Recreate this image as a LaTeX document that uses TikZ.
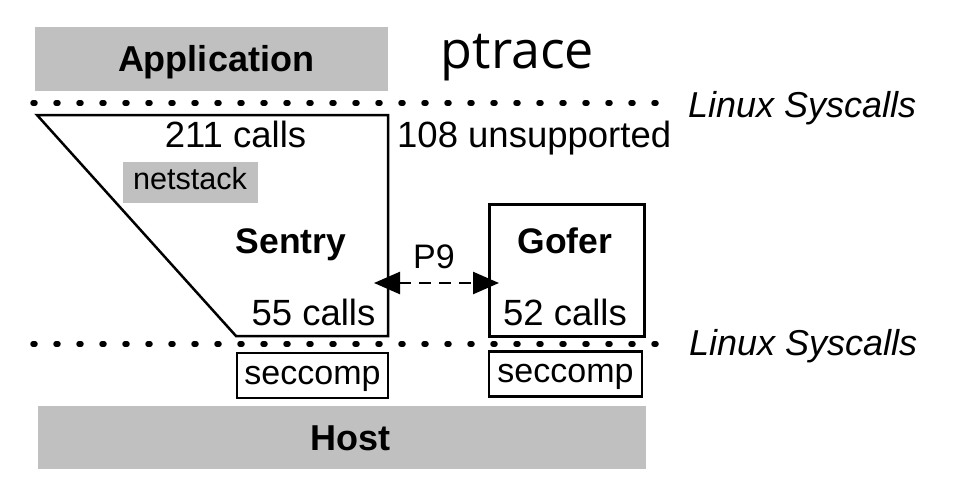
\documentclass[tikz,border=0pt]{standalone}
\usepackage{fontspec}
\setmainfont{Liberation Sans}
\newfontfamily\ptfont{Open Sans}
\usetikzlibrary{arrows.meta}
\definecolor{boxgray}{HTML}{C0C0C0}
\tikzset{
  txt/.style={font=\fontsize{36.5}{40}\selectfont, inner sep=0pt, anchor=base},
  btxt/.style={font=\fontsize{35.5}{40}\selectfont\bfseries, inner sep=0pt, anchor=base},
  itxt/.style={font=\fontsize{36}{40}\selectfont\itshape, inner sep=0pt, anchor=base west},
  graybox/.style={fill=boxgray, draw=none, inner sep=0pt, font=\fontsize{36}{40}\selectfont\bfseries, text height=25.6pt, text depth=0pt},
  whitebox/.style={draw=black, line width=2.5pt, inner sep=0pt, fill=white},
  seccbox/.style={whitebox, font=\fontsize{34}{40}\selectfont, text height=17.6pt, text depth=0pt},
  dotline/.style={line width=5.5pt, line cap=round, dash pattern=on 2pt off 21pt},
  outline/.style={draw=black, line width=2.5pt, line join=miter},
  p9arrow/.style={line width=2.5pt, dash pattern=on 12pt off 8pt, {Triangle[length=26pt,width=22pt]}-{Triangle[length=26pt,width=22pt]}},
}
\begin{document}
\begin{tikzpicture}[x=1pt,y=-1pt]
\useasboundingbox (0,0) rectangle (958,487);
% Application
\node[graybox, minimum width=353pt, minimum height=64pt] (app) at (211.5,59) {\hspace*{9pt}Application};
\node[font=\ptfont\fontsize{52}{58}\selectfont, inner sep=0pt, anchor=base] (ptrace) at (517.5,68) {ptrace};
% dotted lines
\coordinate (d1s) at (33,103);
\coordinate (d1e) at (658,103);
\draw[dotline] (d1s) -- (d1e);
\node[itxt] (ls1) at (688,117) {Linux Syscalls};
\coordinate (d2s) at (33,344);
\coordinate (d2e) at (658,344);
\draw[dotline] (d2s) -- (d2e);
\node[itxt] (ls2) at (689,355) {Linux Syscalls};
% Sentry trapezoid
\coordinate (stl) at (37,115);
\coordinate (str) at (388,115);
\coordinate (sbr) at (388,336);
\coordinate (sbl) at (236,336);
\draw[outline] (stl) -- (str) -- (sbr) -- (sbl) -- cycle;
\node[txt] (c211) at (235.5,147) {211 calls};
\node[txt, anchor=base west] (unsup) at (397,147) {108 unsupported};
\node[fill=boxgray, inner sep=0pt, minimum width=135pt, minimum height=41pt, anchor=north west] (net) at (123,162) {};
\node[font=\fontsize{30.6}{34}\selectfont, inner sep=0pt, anchor=base] (nettxt) at (190,189) {netstack};
\node[btxt] (sentry) at (291,253) {Sentry};
\node[txt] (c55) at (313.5,325) {55 calls};
% Gofer
\node[whitebox, minimum width=155pt, minimum height=132pt, anchor=north west] (gofer) at (488,203) {};
\node[btxt] (gofertxt) at (565,253) {Gofer};
\node[txt] (c52) at (565,325) {52 calls};
% P9
\coordinate (p9l) at (374,283);
\coordinate (p9r) at (499,283);
\draw[p9arrow] (p9l) -- (p9r);
\node[font=\fontsize{34}{40}\selectfont, inner sep=0pt, anchor=base] (p9) at (434,268) {P9};
% seccomp
\node[seccbox, minimum width=151pt, minimum height=45pt] (sec1) at (312.5,375.5) {seccomp};
\node[seccbox, minimum width=153pt, minimum height=45pt] (sec2) at (565.5,374) {seccomp};
% Host
\node[graybox, minimum width=608pt, minimum height=63pt] (host) at (342,437.5) {\hspace*{17pt}Host};
\end{tikzpicture}
\end{document}
